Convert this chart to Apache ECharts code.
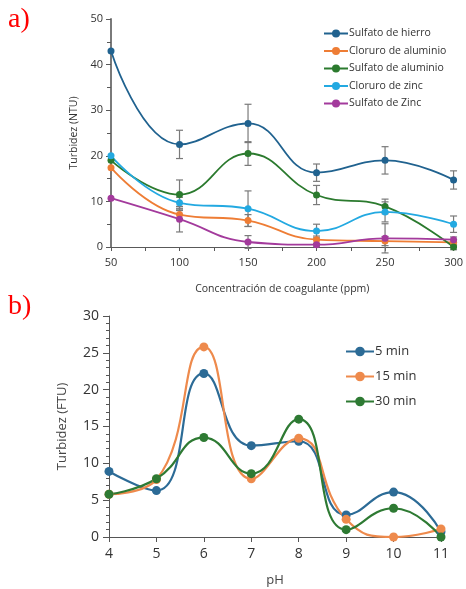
<!DOCTYPE html>
<html><head><meta charset="utf-8">
<script src="https://cdn.jsdelivr.net/npm/echarts@6/dist/echarts.min.js"></script>
<style>html,body{margin:0;padding:0;background:#fff}#c{width:466px;height:589px}</style>
</head><body><div id="c"></div>
<script>
// ---- Chart a) ----
const concentrations = [50, 100, 150, 200, 250, 300];
const seriesNamesA = ['Sulfato de hierro', 'Cloruro de aluminio', 'Sulfato de aluminio', 'Cloruro de zinc', 'Sulfato de Zinc'];
const sulfatoHierro = [43.0, 22.5, 27.1, 16.3, 19.0, 14.7];
const cloruroAluminio = [17.4, 7.1, 5.8, 1.6, 1.3, 1.0];
const sulfatoAluminio = [19.0, 11.5, 20.5, 11.4, 8.9, 0.0];
const cloruroZinc = [20.0, 9.7, 8.4, 3.5, 7.7, 5.0];
const sulfatoZinc = [10.7, 6.1, 1.1, 0.5, 1.9, 1.6];
const errSulfatoHierro = [0, 3.1, 4.2, 1.9, 3.0, 2.0];
const errCloruroAluminio = [0, 0.9, 1.3, 0.8, 1.0, 0.6];
const errSulfatoAluminio = [0, 3.2, 2.6, 2.1, 1.6, 0.6];
const errCloruroZinc = [0, 1.2, 3.9, 1.5, 2.2, 1.8];
const errSulfatoZinc = [0, 2.8, 1.4, 0.3, 3.2, 0.6];
// ---- Chart b) ----
const phValues = [4, 5, 6, 7, 8, 9, 10, 11];
const seriesNamesB = ['5 min', '15 min', '30 min'];
const min5 = [8.9, 6.3, 22.2, 12.4, 13.0, 3.0, 6.1, 0.7];
const min15 = [5.8, 7.8, 25.8, 7.9, 13.4, 2.4, 0.0, 1.1];
const min30 = [5.8, 7.9, 13.5, 8.6, 16.0, 1.0, 3.9, 0.0];

const colorsA = ['#20628F', '#EE7D35', '#2B7A2E', '#23A9E1', '#A33A9C'];
const colorsB = ['#2C6B96', '#EE8A4C', '#2E7A33'];
const valsA = [sulfatoHierro, cloruroAluminio, sulfatoAluminio, cloruroZinc, sulfatoZinc];
const errsA = [errSulfatoHierro, errCloruroAluminio, errSulfatoAluminio, errCloruroZinc, errSulfatoZinc];
const valsB = [min5, min15, min30];
const FONT = 'Open Sans';

const chart = echarts.init(document.getElementById('c'), null, {renderer: 'canvas'});
const series = [];
valsA.forEach((vals, i) => {
  series.push({
    name: seriesNamesA[i], type: 'line', xAxisIndex: 0, yAxisIndex: 0,
    data: concentrations.map((x, j) => [x, vals[j]]),
    smooth: 0.45, symbol: 'circle', symbolSize: 7,
    lineStyle: {width: 1.8, color: colorsA[i]}, itemStyle: {color: colorsA[i]}, z: 3
  });
  series.push({
    type: 'custom', xAxisIndex: 0, yAxisIndex: 0, z: 2, silent: true,
    data: concentrations.map((x, j) => [x, vals[j] - errsA[i][j], vals[j] + errsA[i][j]]).filter((d, j) => errsA[i][j] > 0),
    renderItem: function (params, api) {
      const lo = api.coord([api.value(0), api.value(1)]);
      const hi = api.coord([api.value(0), api.value(2)]);
      const w = 3.5;
      const st = {stroke: '#7a7a7a', lineWidth: 1.2};
      return {type: 'group', children: [
        {type: 'line', shape: {x1: lo[0], y1: lo[1], x2: hi[0], y2: hi[1]}, style: st},
        {type: 'line', shape: {x1: lo[0] - w, y1: lo[1], x2: lo[0] + w, y2: lo[1]}, style: st},
        {type: 'line', shape: {x1: hi[0] - w, y1: hi[1], x2: hi[0] + w, y2: hi[1]}, style: st}
      ]};
    }
  });
});
valsB.forEach((vals, i) => {
  series.push({
    name: seriesNamesB[i], type: 'line', xAxisIndex: 1, yAxisIndex: 1,
    data: phValues.map((x, j) => [x, vals[j]]),
    smooth: 0.5, symbol: 'circle', symbolSize: 9,
    lineStyle: {width: 2.2, color: colorsB[i]}, itemStyle: {color: colorsB[i]}
  });
});

chart.setOption({
  animation: false,
  textStyle: {fontFamily: FONT},
  graphic: [
    {type: 'text', left: 8, top: 6, style: {text: 'a)', fill: '#FF0000', font: '28px "Liberation Serif", serif'}},
    {type: 'text', left: 8, top: 293, style: {text: 'b)', fill: '#FF0000', font: '28px "Liberation Serif", serif'}}
  ],
  legend: [
    {data: seriesNamesA, orient: 'vertical', left: 318, top: 23, itemGap: 6.5, itemWidth: 24, itemHeight: 10,
     textStyle: {fontSize: 10.5, color: '#333', fontFamily: FONT, padding: [0, 0, 0, -4]}},
    {data: seriesNamesB, orient: 'vertical', left: 340, top: 340, itemGap: 12, itemWidth: 28, itemHeight: 12,
     textStyle: {fontSize: 13, color: '#333', fontFamily: FONT, padding: [0, 0, 0, -4]}}
  ],
  grid: [
    {left: 111, right: 9, top: 19, height: 228},
    {left: 109, right: 25, top: 316, height: 221}
  ],
  xAxis: [
    {type: 'value', gridIndex: 0, min: 50, max: 300, interval: 50,
     name: 'Concentración de coagulante (ppm)', nameLocation: 'middle', nameGap: 37,
     nameTextStyle: {fontSize: 10.5, color: '#333'},
     axisLine: {lineStyle: {color: '#595959', width: 1}},
     axisTick: {show: true, length: 4, lineStyle: {color: '#595959'}},
     minorTick: {show: true, splitNumber: 2, length: 4, lineStyle: {color: '#595959'}},
     splitLine: {show: false},
     axisLabel: {fontSize: 11, color: '#333', margin: 10}},
    {type: 'value', gridIndex: 1, min: 4, max: 11, interval: 1,
     name: 'pH', nameLocation: 'middle', nameGap: 37,
     nameTextStyle: {fontSize: 13, color: '#444'},
     axisLine: {lineStyle: {color: '#555', width: 1}},
     axisTick: {show: true, length: 5, lineStyle: {color: '#555'}},
     splitLine: {show: false},
     axisLabel: {fontSize: 14, color: '#333', margin: 10}}
  ],
  yAxis: [
    {type: 'value', gridIndex: 0, min: 0, max: 50, interval: 10,
     name: 'Turbidez (NTU)', nameLocation: 'middle', nameGap: 30,
     nameTextStyle: {fontSize: 10.5, color: '#333'},
     axisLine: {show: true, lineStyle: {color: '#7a7a7a', width: 2}},
     axisTick: {show: true, length: 5, lineStyle: {color: '#595959'}},
     minorTick: {show: true, splitNumber: 2, length: 4, lineStyle: {color: '#595959'}},
     splitLine: {show: false},
     axisLabel: {fontSize: 11, color: '#333', margin: 8}},
    {type: 'value', gridIndex: 1, min: 0, max: 30, interval: 5,
     name: 'Turbidez (FTU)', nameLocation: 'middle', nameGap: 40,
     nameTextStyle: {fontSize: 13, color: '#444'},
     axisLine: {show: true, lineStyle: {color: '#555', width: 1}},
     axisTick: {show: true, length: 6, lineStyle: {color: '#555'}},
     minorTick: {show: true, splitNumber: 5, length: 3, lineStyle: {color: '#555'}},
     splitLine: {show: false},
     axisLabel: {fontSize: 14, color: '#333', margin: 10}}
  ],
  series: series
});
</script></body></html>
